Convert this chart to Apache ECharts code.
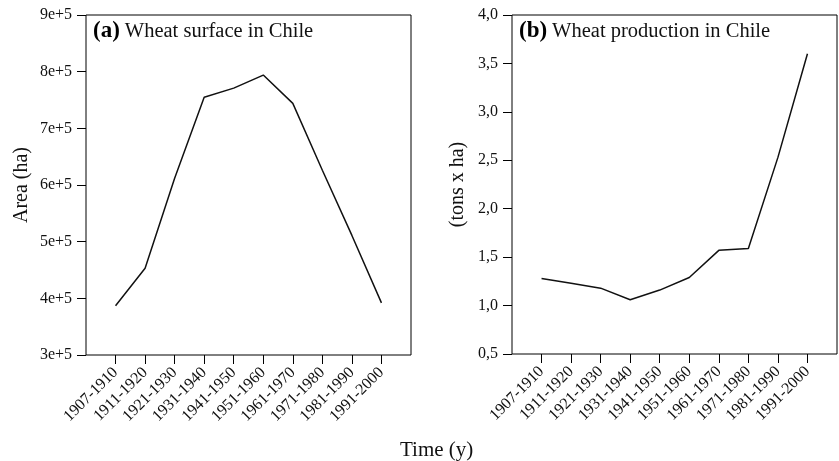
<!DOCTYPE html>
<html>
<head>
<meta charset="utf-8">
<script src="https://cdn.jsdelivr.net/npm/echarts@6/dist/echarts.min.js"></script>
<style>
  html, body { margin: 0; padding: 0; background: #fff; }
  #chart { width: 839px; height: 461px; }
</style>
</head>
<body>
<div id="chart"></div>
<script>
// periods on the x axis
var periods = ['1907-1910', '1911-1920', '1921-1930', '1931-1940', '1941-1950',
  '1951-1960', '1961-1970', '1971-1980', '1981-1990', '1991-2000'];
// (a) wheat surface, ha
var surface = [387000, 453000, 612000, 755000, 771000, 794000, 744000, 626000, 511000, 392000];
// (b) wheat production, tons x ha
var production = [1.28, 1.23, 1.18, 1.06, 1.16, 1.29, 1.57, 1.59, 2.53, 3.60];
var tickIdx = [0, 1, 2, 3, 4, 5, 6, 7, 8, 9];

var FONT = '"Liberation Serif", "DejaVu Serif", serif';
var chart = echarts.init(document.getElementById('chart'));

function xAxisFor(gridIndex) {
  return {
    type: 'value', gridIndex: gridIndex,
    min: -1, max: 10, interval: 1,
    axisLine: { show: false, onZero: false },
    splitLine: { show: false },
    axisTick: { show: true, length: 9, customValues: tickIdx, lineStyle: { color: '#000' } },
    axisLabel: {
      customValues: tickIdx, rotate: 45, margin: 15,
      fontFamily: FONT, fontSize: 16, color: '#111',
      formatter: function (v) { return periods[v] || ''; }
    }
  };
}

function titleFor(left, label, text) {
  return {
    left: left, top: 15,
    text: '{b|' + label + '} {n|' + text + '}',
    textStyle: {
      rich: {
        b: { fontFamily: FONT, fontWeight: 'bold', fontSize: 23, color: '#000' },
        n: { fontFamily: FONT, fontWeight: 'normal', fontSize: 20.5, color: '#111' }
      }
    }
  };
}

chart.setOption({
  animation: false,
  backgroundColor: '#fff',
  title: [
    titleFor(88, '(a)', 'Wheat surface in Chile'),
    titleFor(514, '(b)', 'Wheat production in Chile')
  ],
  graphic: [{
    type: 'text', left: 400, top: 440,
    style: { text: 'Time (y)', fontFamily: FONT, fontSize: 21, fill: '#111' }
  }],
  grid: [
    { left: 86, top: 15, width: 325, height: 340, show: true, borderColor: '#000', borderWidth: 1 },
    { left: 512, top: 15, width: 325, height: 339, show: true, borderColor: '#000', borderWidth: 1 }
  ],
  xAxis: [xAxisFor(0), xAxisFor(1)],
  yAxis: [
    {
      type: 'value', gridIndex: 0, min: 300000, max: 900000, interval: 100000,
      name: 'Area (ha)', nameLocation: 'middle', nameGap: 54,
      nameTextStyle: { fontFamily: FONT, fontSize: 20, color: '#111' },
      axisLine: { show: false, onZero: false },
      splitLine: { show: false },
      axisTick: { show: true, length: 9, lineStyle: { color: '#000' } },
      axisLabel: {
        margin: 14, fontFamily: FONT, fontSize: 16, color: '#111',
        formatter: function (v) { return (v / 100000) + 'e+5'; }
      }
    },
    {
      type: 'value', gridIndex: 1, min: 0.5, max: 4.0, interval: 0.5,
      name: '(tons x ha)', nameLocation: 'middle', nameGap: 44,
      nameTextStyle: { fontFamily: FONT, fontSize: 20, color: '#111' },
      axisLine: { show: false, onZero: false },
      splitLine: { show: false },
      axisTick: { show: true, length: 9, lineStyle: { color: '#000' } },
      axisLabel: {
        margin: 14, fontFamily: FONT, fontSize: 16, color: '#111',
        formatter: function (v) { return v.toFixed(1).replace('.', ','); }
      }
    }
  ],
  series: [
    {
      type: 'line', xAxisIndex: 0, yAxisIndex: 0, showSymbol: false,
      lineStyle: { color: '#111', width: 1.5 },
      data: surface.map(function (v, i) { return [i, v]; })
    },
    {
      type: 'line', xAxisIndex: 1, yAxisIndex: 1, showSymbol: false,
      lineStyle: { color: '#111', width: 1.5 },
      data: production.map(function (v, i) { return [i, v]; })
    }
  ]
});
</script>
</body>
</html>
